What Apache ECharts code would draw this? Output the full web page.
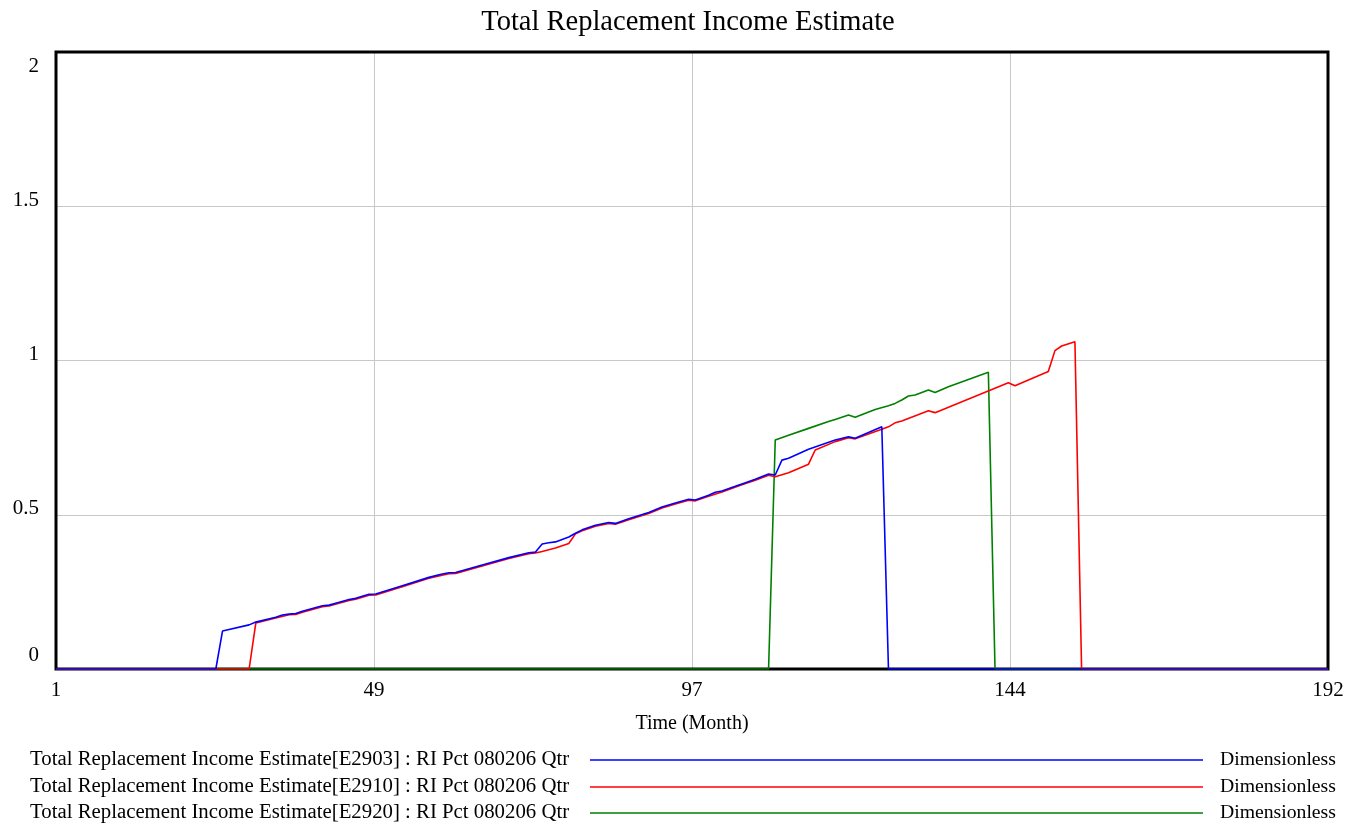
<!DOCTYPE html>
<html>
<head>
<meta charset="utf-8">
<title>Total Replacement Income Estimate</title>
<script src="https://cdn.jsdelivr.net/npm/echarts@6/dist/echarts.min.js"></script>
<style>
  html, body { margin: 0; padding: 0; background: #fff; }
  #chart { width: 1348px; height: 827px; }
</style>
</head>
<body>
<div id="chart"></div>
<script>
// Time axis (months) and value ticks
const xMin = 1;
const xMax = 192;
const xTickStep = 47.75;          // quarter of the run; labels show rounded months
const yTicks = [0, 0.5, 1, 1.5, 2];

// Series names and units
const seriesNames = [
  'Total Replacement Income Estimate[E2903] : RI Pct 080206 Qtr',
  'Total Replacement Income Estimate[E2910] : RI Pct 080206 Qtr',
  'Total Replacement Income Estimate[E2920] : RI Pct 080206 Qtr'
];
const seriesUnits = ['Dimensionless', 'Dimensionless', 'Dimensionless'];
const seriesColors = ['#0000ff', '#ff0000', '#008000'];

// E2903 breakpoints (month, value)
const e2903Months = [1, 25, 26, 30, 31, 34, 35, 36, 37, 38, 41, 42, 43, 45, 46, 48, 49, 53, 57, 59, 60, 61, 65, 69, 72, 73, 74, 75, 76, 78, 79, 80, 82, 84, 85, 87, 90, 92, 94, 96, 97, 99, 100, 101, 103, 104, 106, 108, 109, 110, 111, 114, 118, 120, 121, 125, 126, 192];
const e2903Values = [0, 0, 0.123, 0.143, 0.152, 0.168, 0.175, 0.178, 0.180, 0.187, 0.205, 0.207, 0.213, 0.225, 0.229, 0.242, 0.243, 0.270, 0.297, 0.308, 0.312, 0.313, 0.337, 0.361, 0.377, 0.379, 0.405, 0.409, 0.412, 0.428, 0.440, 0.451, 0.466, 0.475, 0.472, 0.487, 0.507, 0.525, 0.538, 0.550, 0.548, 0.563, 0.573, 0.577, 0.592, 0.600, 0.615, 0.632, 0.629, 0.677, 0.683, 0.712, 0.742, 0.753, 0.748, 0.785, 0, 0];

// E2910 breakpoints (month, value)
const e2910Months = [1, 30, 31, 34, 36, 37, 38, 41, 42, 45, 46, 48, 49, 53, 57, 60, 61, 65, 69, 72, 73, 74, 76, 78, 79, 80, 82, 84, 85, 87, 90, 92, 94, 96, 97, 99, 101, 104, 106, 108, 109, 111, 114, 115, 118, 120, 121, 125, 126, 127, 128, 132, 133, 144, 145, 150, 151, 152, 154, 155, 192];
const e2910Values = [0, 0, 0.149, 0.165, 0.176, 0.177, 0.184, 0.202, 0.204, 0.222, 0.226, 0.239, 0.240, 0.267, 0.294, 0.309, 0.310, 0.334, 0.358, 0.374, 0.376, 0.381, 0.392, 0.407, 0.438, 0.448, 0.463, 0.472, 0.469, 0.484, 0.504, 0.522, 0.535, 0.547, 0.545, 0.560, 0.574, 0.597, 0.612, 0.628, 0.623, 0.636, 0.664, 0.710, 0.737, 0.750, 0.746, 0.777, 0.785, 0.798, 0.804, 0.837, 0.831, 0.928, 0.918, 0.964, 1.032, 1.047, 1.061, 0, 0];

// E2920 breakpoints (month, value)
const e2920Months = [1, 108, 109, 111, 114, 117, 118, 120, 121, 124, 126, 127, 128, 129, 130, 132, 133, 135, 141, 142, 192];
const e2920Values = [0, 0, 0.742, 0.758, 0.780, 0.802, 0.809, 0.823, 0.816, 0.841, 0.853, 0.861, 0.872, 0.885, 0.888, 0.904, 0.896, 0.915, 0.962, 0, 0];

function pairs(months, values) {
  return months.map(function (m, i) { return [m, values[i]]; });
}

const FONT = '"Liberation Serif", "Times New Roman", serif';

const chart = echarts.init(document.getElementById('chart'), null, { renderer: 'canvas' });

// Plot rectangle
const plotLeft = 56, plotRight = 20, plotTop = 52, plotBottom = 158;
const plotW = 1348 - plotLeft - plotRight;
const plotH = 827 - plotTop - plotBottom;

const graphics = [];

// Heavy black frame round the plot, above the grid lines and below the curves
graphics.push({
  type: 'rect',
  z: 1,
  silent: true,
  shape: { x: plotLeft, y: plotTop, width: plotW, height: plotH },
  style: { fill: null, stroke: '#000', lineWidth: 3 }
});

// Legend block below the axis: name, sample line, unit
const legendRowsY = [760, 787, 813];
seriesNames.forEach(function (name, i) {
  graphics.push({
    type: 'text', x: 30, y: legendRowsY[i],
    style: { text: name, font: '20.8px ' + FONT, fill: '#000', verticalAlign: 'middle' }
  });
  graphics.push({
    type: 'line',
    shape: { x1: 590, y1: legendRowsY[i], x2: 1203, y2: legendRowsY[i] },
    style: { stroke: seriesColors[i], lineWidth: 1.5 }
  });
  graphics.push({
    type: 'text', x: 1220, y: legendRowsY[i],
    style: { text: seriesUnits[i], font: '19.7px ' + FONT, fill: '#000', verticalAlign: 'middle' }
  });
});

// Per-tick vertical nudges for the value labels
function yLabel(v) {
  if (v === 2) return '{top|2}';
  if (v === 0) return '{low|0}';
  return '{mid|' + v + '}';
}

const lineSeries = [
  { name: seriesNames[2], data: pairs(e2920Months, e2920Values), color: seriesColors[2] },
  { name: seriesNames[1], data: pairs(e2910Months, e2910Values), color: seriesColors[1] },
  { name: seriesNames[0], data: pairs(e2903Months, e2903Values), color: seriesColors[0] }
].map(function (s) {
  return {
    type: 'line',
    name: s.name,
    data: s.data,
    z: 2,
    showSymbol: false,
    symbol: 'none',
    animation: false,
    lineStyle: { color: s.color, width: 1.6 },
    itemStyle: { color: s.color },
    emphasis: { disabled: true }
  };
});

chart.setOption({
  backgroundColor: '#ffffff',
  animation: false,
  title: {
    text: 'Total Replacement Income Estimate',
    left: 683,
    textAlign: 'center',
    top: 3,
    textStyle: { fontFamily: FONT, fontSize: 28.5, fontWeight: 'normal', color: '#000' }
  },
  grid: {
    left: plotLeft, right: plotRight, top: plotTop, bottom: plotBottom,
    show: false
  },
  xAxis: {
    type: 'value',
    min: xMin, max: xMax, interval: xTickStep,
    name: 'Time (Month)',
    nameLocation: 'middle',
    nameGap: 45,
    nameTextStyle: { fontFamily: FONT, fontSize: 20, color: '#000' },
    axisLine: { show: false },
    axisTick: { show: false },
    axisLabel: {
      show: true, showMinLabel: true, showMaxLabel: true,
      margin: 11,
      fontFamily: FONT, fontSize: 21, color: '#000',
      formatter: function (v) { return String(Math.round(v)); }
    },
    splitLine: { show: true, lineStyle: { color: '#c8c8c8', width: 1 } }
  },
  yAxis: {
    type: 'value',
    min: yTicks[0], max: yTicks[yTicks.length - 1], interval: yTicks[1] - yTicks[0],
    axisLine: { show: false },
    axisTick: { show: false },
    axisLabel: {
      show: true, margin: 17,
      fontFamily: FONT, fontSize: 21, color: '#000',
      formatter: yLabel,
      rich: {
        top: { fontFamily: FONT, fontSize: 21, color: '#000', padding: [28, 0, 0, 0] },
        mid: { fontFamily: FONT, fontSize: 21, color: '#000', padding: [0, 0, 12, 0] },
        low: { fontFamily: FONT, fontSize: 21, color: '#000', padding: [0, 0, 28, 0] }
      }
    },
    splitLine: { show: true, lineStyle: { color: '#c8c8c8', width: 1 } }
  },
  tooltip: { show: false },
  series: lineSeries,
  graphic: graphics
});
</script>
</body>
</html>
